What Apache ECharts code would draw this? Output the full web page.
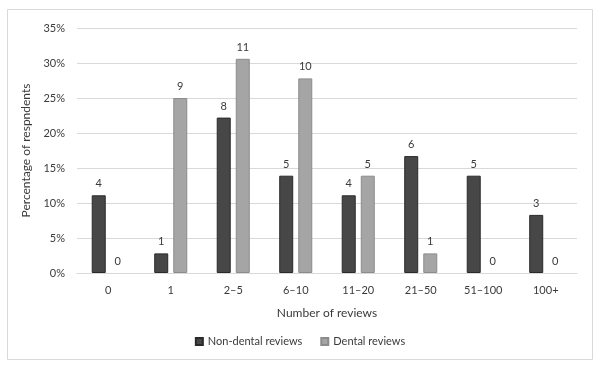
<!DOCTYPE html>
<html>
<head>
<meta charset="utf-8">
<script src="https://cdn.jsdelivr.net/npm/echarts@6/dist/echarts.min.js"></script>
<style>html,body{margin:0;padding:0;background:#fff}#c{width:600px;height:368px}</style>
</head>
<body>
<div id="c"></div>
<script>
const categories = ['0', '1', '2–5', '6–10', '11–20', '21–50', '51–100', '100+'];
const nonDentalPct = [11.1, 2.8, 22.2, 13.9, 11.1, 16.7, 13.9, 8.3];
const dentalPct = [0, 25.0, 30.6, 27.8, 13.9, 2.8, 0, 0];
const nonDentalCount = [4, 1, 8, 5, 4, 6, 5, 3];
const dentalCount = [0, 9, 11, 10, 5, 1, 0, 0];
const yTicks = [0, 5, 10, 15, 20, 25, 30, 35];

const FONT = 'Lato';
const TXT = '#3a3a3a';
const chart = echarts.init(document.getElementById('c'), null, {renderer: 'canvas'});
function mkLabel(counts) {
  return {
    show: true, position: 'top', distance: 6,
    color: TXT, fontFamily: FONT, fontSize: 11,
    formatter: p => String(counts[p.dataIndex])
  };
}
function mkData(vals) {
  return vals.map(v => v === 0 ? {value: v, itemStyle: {borderWidth: 0, color: 'rgba(0,0,0,0)'}} : v);
}
chart.setOption({
  animation: false,
  backgroundColor: '#fff',
  graphic: [{
    type: 'rect', left: 5, top: 7, z: -1,
    shape: {width: 585, height: 350},
    style: {fill: 'none', stroke: '#d9d9d9', lineWidth: 1}
  }],
  grid: {left: 77, right: 23, top: 28, bottom: 95, containLabel: false},
  legend: {
    top: 331, left: 'center', itemWidth: 7, itemHeight: 7, itemGap: 18,
    icon: 'rect',
    textStyle: {color: TXT, fontFamily: FONT, fontSize: 11},
    data: ['Non-dental reviews', 'Dental reviews']
  },
  xAxis: {
    type: 'category', data: categories,
    name: 'Number of reviews', nameLocation: 'middle', nameGap: 34,
    nameTextStyle: {color: TXT, fontFamily: FONT, fontSize: 12},
    axisLine: {lineStyle: {color: '#d9d9d9'}},
    axisTick: {show: false},
    axisLabel: {color: TXT, fontFamily: FONT, fontSize: 11, margin: 12}
  },
  yAxis: {
    type: 'value', min: yTicks[0], max: yTicks[yTicks.length - 1], interval: 5,
    name: 'Percentage of respndents', nameLocation: 'middle', nameGap: 43,
    nameTextStyle: {color: TXT, fontFamily: FONT, fontSize: 12},
    axisLine: {show: false}, axisTick: {show: false},
    axisLabel: {color: TXT, fontFamily: FONT, fontSize: 11, margin: 12, formatter: v => v + '%'},
    splitLine: {lineStyle: {color: '#d9d9d9'}}
  },
  series: [{
    name: 'Non-dental reviews', type: 'bar', data: mkData(nonDentalPct),
    barWidth: 14, barGap: '36%',
    itemStyle: {color: '#474747', borderColor: '#2a2a2a', borderWidth: 1},
    label: mkLabel(nonDentalCount)
  }, {
    name: 'Dental reviews', type: 'bar', data: mkData(dentalPct),
    barWidth: 14,
    itemStyle: {color: '#a5a5a5', borderColor: '#8c8c8c', borderWidth: 1},
    label: mkLabel(dentalCount)
  }]
});
</script>
</body>
</html>
